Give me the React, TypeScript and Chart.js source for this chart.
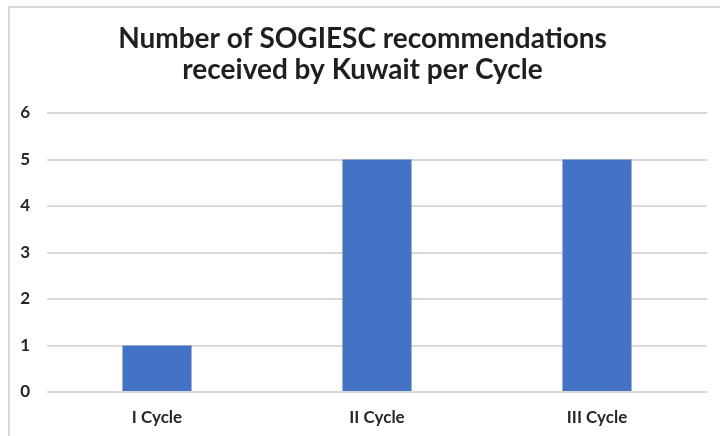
import React, { useEffect, useRef } from "react";
import { Chart, registerables } from "chart.js";

Chart.register(...registerables);

const categories = ["I Cycle", "II Cycle", "III Cycle"];
const recommendations = [1, 5, 5];
const titleLines = ["Number of SOGIESC recommendations", "received by Kuwait per Cycle"];

export default function App() {
  const ref = useRef<HTMLCanvasElement | null>(null);
  useEffect(() => {
    if (!ref.current) return;
    const chart = new Chart(ref.current, {
      type: "bar",
      data: {
        labels: categories,
        datasets: [
          {
            label: "Recommendations",
            data: recommendations,
            backgroundColor: "#4472C4",
            borderWidth: 0,
            categoryPercentage: 1,
            barPercentage: 0.314,
          },
        ],
      },
      options: {
        animation: false,
        responsive: false,
        maintainAspectRatio: false,
        layout: { padding: { left: 18, right: 13, top: 0, bottom: 0 } },
        plugins: {
          legend: { display: false },
          tooltip: { enabled: false },
          title: {
            display: true,
            text: titleLines,
            color: "#1f1f1f",
            font: { family: "Lato", size: 28, weight: "bold", lineHeight: "31px" },
            padding: { top: 23, bottom: 28 },
          },
        },
        scales: {
          x: {
            grid: { display: false, drawTicks: false },
            border: { display: false },
            ticks: {
              color: "#262626",
              font: { family: "Lato", size: 17, weight: "bold" },
              padding: 15,
            },
            afterFit: (s: any) => {
              s.height = 44;
            },
          },
          y: {
            min: 0,
            max: 6,
            grid: { color: "#d9d9d9", lineWidth: 2, drawTicks: false },
            border: { display: false },
            ticks: {
              stepSize: 1,
              color: "#262626",
              font: { family: "Lato", size: 17, weight: "bold" },
              padding: 17,
            },
            afterFit: (s: any) => {
              s.width = 29;
            },
          },
        },
      },
    });
    return () => chart.destroy();
  }, []);
  return (
    <div style={{ position: "fixed", left: 0, top: 0, width: 720, height: 436, background: "#fff" }}>
      <div
        style={{
          position: "absolute",
          left: 8,
          top: 6,
          width: 712,
          height: 430,
          borderLeft: "2px solid #d9d9d9",
          borderTop: "2px solid #d9d9d9",
        }}
      />
      <canvas ref={ref} width={720} height={436} style={{ position: "absolute", left: 0, top: 0, display: "block" }} />
    </div>
  );
}
